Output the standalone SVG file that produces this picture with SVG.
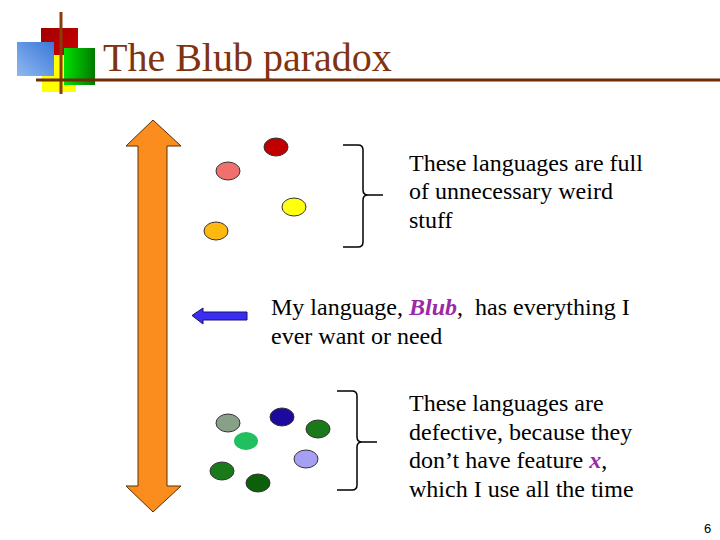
<svg xmlns="http://www.w3.org/2000/svg" width="720" height="540" viewBox="0 0 720 540">
<defs>
<linearGradient id="gBlue" x1="0" y1="1" x2="1" y2="0"><stop offset="0" stop-color="#8fb8f0"/><stop offset="1" stop-color="#3a78d8"/></linearGradient>
<linearGradient id="gGreen" x1="0" y1="0" x2="1" y2="0"><stop offset="0" stop-color="#00e000"/><stop offset="1" stop-color="#007a00"/></linearGradient>
<linearGradient id="gRed" x1="0" y1="0" x2="1" y2="1"><stop offset="0" stop-color="#a00000"/><stop offset="1" stop-color="#d00000"/></linearGradient>
</defs>
<style>
.t{font-family:"Liberation Serif","Times New Roman",serif;font-size:24px;fill:#000;white-space:pre}
.em{font-weight:bold;font-style:italic;fill:#9a2aa8}
.dot{stroke:#333;stroke-width:1}
.brace{fill:none;stroke:#000;stroke-width:1.5}
</style>
<rect width="720" height="540" fill="#fff"/>
<g id="logo">
<rect x="41" y="28" width="37" height="30" fill="url(#gRed)"/>
<rect x="42" y="55" width="34" height="37" fill="#ffff00"/>
<rect x="17" y="42" width="37" height="34" fill="url(#gBlue)"/>
<rect x="64" y="48" width="31" height="37" fill="url(#gGreen)"/>
<rect x="59.5" y="12" width="3" height="82" fill="#8b3c0c"/>
</g>
<g id="title">
<rect x="36" y="78.5" width="684" height="3" fill="#6e2a00"/>
<text x="103" y="71" font-family="Liberation Serif,Times New Roman,serif" font-size="40" fill="#7f3310">The Blub paradox</text>
</g>
<g id="orange-arrow">
<path d="M153,120 L181,146 L167,146 L167,486 L181,486 L153,512 L126,486 L138,486 L138,146 L126,146 Z" fill="#fb8c1e" stroke="#5a3000" stroke-width="1"/>
</g>
<g id="blue-arrow">
<path d="M192,315.5 L203,308 L203,312 L247,312 L247,320 L203,320 L203,324 Z" fill="#3a2ff0" stroke="#1a1070" stroke-width="1"/>
</g>
<g id="top-dots">
<ellipse class="dot" cx="276" cy="147" rx="12" ry="9" fill="#c00000"/>
<ellipse class="dot" cx="228" cy="171" rx="12" ry="9" fill="#f07070"/>
<ellipse class="dot" cx="294" cy="207" rx="12" ry="9" fill="#ffff10"/>
<ellipse class="dot" cx="216" cy="231" rx="12" ry="9" fill="#ffb810"/>
</g>
<g id="bottom-dots">
<ellipse class="dot" cx="228" cy="423" rx="12" ry="9" fill="#88a088"/>
<ellipse class="dot" cx="282" cy="417" rx="12" ry="9" fill="#1c0a9c"/>
<ellipse class="dot" cx="318" cy="429" rx="12" ry="9" fill="#1a7a1a"/>
<ellipse cx="246" cy="441" rx="12" ry="9" fill="#20c060"/>
<ellipse class="dot" cx="306" cy="459" rx="12" ry="9" fill="#a6a0f4"/>
<ellipse class="dot" cx="222" cy="471" rx="12" ry="9" fill="#1a7a1a"/>
<ellipse class="dot" cx="258" cy="483" rx="12" ry="9" fill="#0c600c"/>
</g>
<g id="connectors">
<path class="brace" d="M343,145 L358,145 Q363,145 363,150 L363,190 Q363,195 368,195 L383,195 M368,195 Q363,195 363,200 L363,242 Q363,247 358,247 L343,247"/>
<path class="brace" d="M337,391 L352,391 Q357,391 357,396 L357,437 Q357,442 362,442 L377,442 M362,442 Q357,442 357,447 L357,485 Q357,490 352,490 L337,490"/>
</g>
<g id="text-top">
<text class="t" x="409" y="171">These languages are full</text>
<text class="t" x="409" y="199">of unnecessary weird</text>
<text class="t" x="409" y="228">stuff</text>
</g>
<g id="text-mid">
<text class="t" x="271" y="315">My language, <tspan class="em">Blub</tspan>,  has everything I</text>
<text class="t" x="271" y="344">ever want or need</text>
</g>
<g id="text-bottom">
<text class="t" x="409" y="411">These languages are</text>
<text class="t" x="409" y="440">defective, because they</text>
<text class="t" x="409" y="468">don’t have feature <tspan class="em">x</tspan>,</text>
<text class="t" x="409" y="497">which I use all the time</text>
</g>
<text x="704" y="533" font-family="Liberation Sans,Arial,sans-serif" font-size="13" fill="#000">6</text>
</svg>
